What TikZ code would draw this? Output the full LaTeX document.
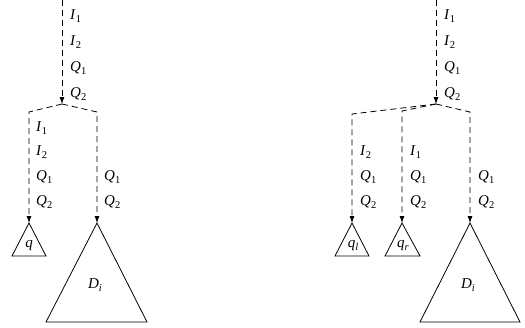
\documentclass[tikz,border=0pt]{standalone}
\usepackage{fontspec}
\setmainfont{Liberation Serif}
\usetikzlibrary{arrows.meta}
\newcommand{\lb}[2]{\textit{#1}\raisebox{-0.35ex}{\fontsize{10.5}{10.5}\selectfont #2}}
\begin{document}
\begin{tikzpicture}[x=1pt,y=-1pt,
  flow/.style={dash pattern=on 6pt off 4pt,line width=0.8pt},
  arr/.style={flow,-{Latex[length=7pt,width=5pt]}},
  lab/.style={anchor=west,inner sep=0pt,font=\fontsize{15}{15}\selectfont},
  tl/.style={inner sep=0pt,font=\fontsize{15}{15}\selectfont},
  tri/.style={line width=0.8pt}]
\useasboundingbox (0,0) rectangle (525,327);
% ---------- left figure ----------
\coordinate (Ltop) at (62,0);
\coordinate (Lsplit) at (62,104);
\coordinate (La) at (29,112);
\coordinate (Lb) at (97,112);
\coordinate (Lq) at (29,223);
\coordinate (LD) at (97,223);
\draw[arr] (Ltop) -- (Lsplit);
\draw[arr] (Lsplit) -- (La) -- (Lq);
\draw[arr] (Lsplit) -- (Lb) -- (LD);
\draw[tri] (Lq) -- (12,256) -- (46,256) -- cycle;
\draw[tri] (LD) -- (46,322) -- (147,322) -- cycle;
\node[tl] (lq) at (29,246) {\textit{q}};
\node[tl] (lD) at (95,285) {\lb{D}{\textit{i}}};
\node[lab] (l1) at (70,16) {\lb{I}{1}};
\node[lab] (l2) at (70,42) {\lb{I}{2}};
\node[lab] (l3) at (70,68) {\lb{Q}{1}};
\node[lab] (l4) at (70,94) {\lb{Q}{2}};
\node[lab] (l5) at (36,128) {\lb{I}{1}};
\node[lab] (l6) at (36,152) {\lb{I}{2}};
\node[lab] (l7) at (36,177) {\lb{Q}{1}};
\node[lab] (l8) at (36,202) {\lb{Q}{2}};
\node[lab] (l9) at (104,177) {\lb{Q}{1}};
\node[lab] (l10) at (104,202) {\lb{Q}{2}};
% ---------- right figure ----------
\coordinate (Rtop) at (436,0);
\coordinate (Rsplit) at (436,104);
\coordinate (Ra) at (352,114);
\coordinate (Rb) at (402,111);
\coordinate (Rc) at (470,112);
\coordinate (Rql) at (352,223);
\coordinate (Rqr) at (402,223);
\coordinate (RD) at (470,223);
\draw[arr] (Rtop) -- (Rsplit);
\draw[arr] (Rsplit) -- (Ra) -- (Rql);
\draw[arr] (Rsplit) -- (Rb) -- (Rqr);
\draw[arr] (Rsplit) -- (Rc) -- (RD);
\draw[tri] (Rql) -- (335,256) -- (369,256) -- cycle;
\draw[tri] (Rqr) -- (385,256) -- (420,256) -- cycle;
\draw[tri] (RD) -- (420,322) -- (520,322) -- cycle;
\node[tl] (rql) at (353,246) {\lb{q}{\textit{l}}};
\node[tl] (rqr) at (403,246) {\lb{q}{\textit{r}}};
\node[tl] (rD) at (468,285) {\lb{D}{\textit{i}}};
\node[lab] (r1) at (444,16) {\lb{I}{1}};
\node[lab] (r2) at (444,42) {\lb{I}{2}};
\node[lab] (r3) at (444,68) {\lb{Q}{1}};
\node[lab] (r4) at (444,94) {\lb{Q}{2}};
\node[lab] (r5) at (360,152) {\lb{I}{2}};
\node[lab] (r6) at (360,177) {\lb{Q}{1}};
\node[lab] (r7) at (360,202) {\lb{Q}{2}};
\node[lab] (r8) at (410,152) {\lb{I}{1}};
\node[lab] (r9) at (410,177) {\lb{Q}{1}};
\node[lab] (r10) at (410,202) {\lb{Q}{2}};
\node[lab] (r11) at (478,177) {\lb{Q}{1}};
\node[lab] (r12) at (478,202) {\lb{Q}{2}};
\end{tikzpicture}
\end{document}
